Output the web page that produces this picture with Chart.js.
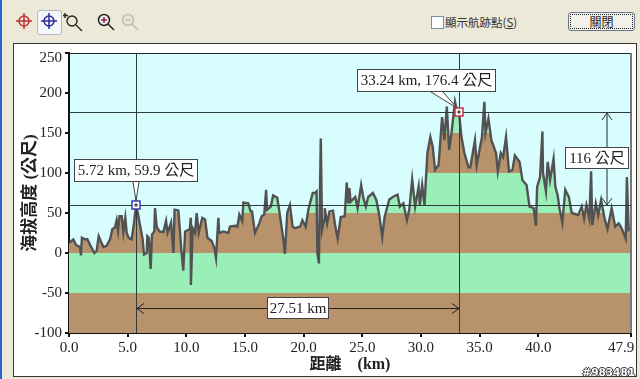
<!DOCTYPE html>
<html>
<head>
<meta charset="utf-8">
<script src="https://cdn.jsdelivr.net/npm/chart.js@4/dist/chart.umd.min.js"></script>
<style>
  html, body { margin: 0; padding: 0; background: #ece9d8; overflow: hidden; }
  #stage { position: relative; width: 640px; height: 379px; overflow: hidden;
    font-family: "Noto Sans CJK TC", sans-serif; color: #222; }
  #edge { position: absolute; left: 0; top: 0; width: 2px; height: 379px; background: #2a62d6; }
  #panel { position: absolute; left: 13px; top: 43px; width: 622px; height: 332px;
    background: #fff; border: 1px solid #333; }
  #chart { position: absolute; left: 0; top: 0; }
  #active { position: absolute; left: 37px; top: 10px; width: 23px; height: 23px;
    background: #f4f6fa; border: 1px solid #b4b8c4; border-radius: 3px; }
  .icon { position: absolute; top: 11px; width: 22px; height: 22px; }
  #check { position: absolute; left: 431px; top: 16px; width: 11px; height: 11px;
    background: #fff; border: 1px solid #7a8ea8; }
  #checkLabel { position: absolute; left: 445px; top: 13px; font-size: 11.5px; line-height: 18px; color: #333; }
  #close { position: absolute; left: 568px; top: 12px; width: 65px; height: 17px;
    border: 1px solid #69788c; border-radius: 3px; background: #f3f2ea; outline: 1px dotted #222;
    outline-offset: -3px; font-size: 12px; line-height: 17px; text-align: center; color: #222; }
  #stamp { position: absolute; right: 5px; bottom: 1px; font: bold 10.5px "DejaVu Sans", sans-serif; color: #fff;
    text-shadow: 1px 0 0 #333, -1px 0 0 #333, 0 1px 0 #333, 0 -1px 0 #333; }
</style>
</head>
<body>
<div id="stage">
  <div id="edge"></div>
  <div id="active"></div>
  <svg class="icon" style="left:13px" viewBox="0 0 22 22" fill="none" stroke="#c03030" stroke-width="1.5">
    <circle cx="11" cy="10" r="5"/><path d="M11 2v16M3 10h16"/></svg>
  <svg class="icon" style="left:38px" viewBox="0 0 22 22" fill="none" stroke="#2a2a9a" stroke-width="1.5">
    <circle cx="11" cy="10" r="5"/><path d="M11 2v16M3 10h16"/></svg>
  <svg class="icon" style="left:62px" viewBox="0 0 22 22" fill="none" stroke="#222" stroke-width="1.4">
    <circle cx="10" cy="10" r="5"/><path d="M14 14l6 6M3 2v5M1 4.500h5" /></svg>
  <svg class="icon" style="left:94px" viewBox="0 0 22 22" fill="none" stroke="#222" stroke-width="1.5">
    <circle cx="10" cy="9" r="5.500" fill="#eee"/><path d="M14 13l6 6"/><path d="M7 9h6M10 6v6" stroke="#902040"/></svg>
  <svg class="icon" style="left:118px" viewBox="0 0 22 22" fill="none" stroke="#bbb" stroke-width="1.5">
    <circle cx="10" cy="9" r="5.500"/><path d="M14 13l6 6M7 9h6"/></svg>
  <div id="check"></div>
  <div id="checkLabel">顯示航跡點(<u>S</u>)</div>
  <div id="close">關閉</div>
  <div id="panel"></div>
  <canvas id="chart" width="640" height="379"></canvas>
  <div id="stamp">#983481</div>
</div>
<script>
"use strict";

// ── Data ────────────────────────────────────────────────────────────────────
const profileKm = [0,0.37,0.6,0.94,1.02,1.1,1.36,1.56,1.8,2.16,2.36,2.53,2.7,2.93,3.2,3.5,3.7,3.92,4.06,4.18,4.3,4.5,4.63,4.8,4.92,5.08,5.34,5.54,5.72,5.89,6.05,6.28,6.39,6.62,6.68,6.8,6.96,7.07,7.27,7.33,7.47,7.7,8.04,8.27,8.4,8.7,8.9,9.0,9.32,9.6,9.74,9.9,10.3,10.37,10.39,10.54,10.74,10.88,11.05,11.36,11.6,11.8,12.16,12.4,12.53,12.73,12.8,13.15,13.58,13.72,14.18,14.35,14.52,14.77,14.86,15.28,15.48,15.6,15.85,16.22,16.42,16.64,16.8,16.88,17.2,17.4,17.75,17.97,18.27,18.4,18.6,18.83,19.06,19.26,19.7,19.89,20.17,20.4,20.77,20.97,21.1,21.17,21.3,21.46,21.57,21.74,21.8,22.0,22.2,22.5,22.7,22.9,23.16,23.5,23.67,23.8,23.9,24.0,24.4,24.6,24.9,25.1,25.3,25.5,25.9,26.2,26.45,26.7,26.9,27.3,27.7,28.0,28.2,28.5,28.8,29.0,29.25,29.5,29.8,29.9,30.1,30.3,30.45,30.55,30.8,31.0,31.2,31.5,31.8,32.0,32.2,32.4,32.6,32.9,33.05,33.24,33.45,33.7,34.05,34.2,34.6,34.75,35.2,35.4,35.5,35.75,36.0,36.4,36.55,36.8,37.0,37.25,37.5,37.8,38.0,38.4,38.65,39.0,39.25,39.6,39.8,39.9,40.15,40.35,40.4,40.65,40.8,41.0,41.3,41.45,41.65,41.8,42.05,42.3,42.6,42.85,43.4,43.7,43.9,44.1,44.35,44.5,44.6,44.9,45.1,45.35,45.65,45.9,46.25,46.55,46.85,47.1,47.45,47.55,47.7,47.9];
const profileM = [12.5,17,10,7.5,-3,19,17,17.5,10,0,3,21,15,7.5,9,17,30,32,41,28,46,46,26,44,25,19,17,37.5,59.9,48,35,17,-2,0,21,19,-20,23,27,56,33,27,26,40,25,38,0,54,53,0,-22,27,30,44,-40,31,25,50,25,44,42,19,15,6,-6,44,25,27,25,33,34,33,48,40,63,62,52,52,25,37,46,48,79,54,58,72,69,48,17,-1,50,60,33,31,33,41,33,54,75,75,77,0,-13,143,29,41,56,37,52,53,33,18,45,46,88,62,81,64,70,56,85,68,58,70,75,66,47,20,45,67,71,73,58,62,41,54,92,58,83,60,85,60,100,125,145,133,104,110,170,141,183,129,150,189,179,176.4,145,125,107,107,141,110,145,189,150,168,141,125,102,125,120,145,102,104,122,114,91,85,58,56,34,83,95,152,100,77,114,91,118,83,72,56,38,79,70,50,47.5,58,43,60,43,102,35,62,47,66,43,30,56,33,37,31,18,95,29,31];
const baseKm = [0, 47.9];
const baseM = [0, 0];

const xTicks = [0, 5, 10, 15, 20, 25, 30, 35, 40, 47.9];
const yTicks = [-100, -50, 0, 50, 100, 150, 200, 250];
// alternating colour per 50 m band, from the bottom of the axis
const bandColors = ["#b8926a", "#9aeeb8", "#b8926a", "#9aeeb8", "#b8926a", "#9aeeb8", "#b8926a"];

const cursorKm = [5.72, 33.24];
const cursorM = [59.9, 176.4];
const cursorLabels = ["5.72 km, 59.9 公尺", "33.24 km, 176.4 公尺"];
const spanLabelX = "27.51 km";
const spanLabelY = "116 公尺";

const SERIF = '"Liberation Serif", "Noto Sans CJK TC", serif';

// ── Helpers ─────────────────────────────────────────────────────────────────
function toPoints(xs, ys) {
  return xs.map((x, i) => ({ x, y: ys[i] }));
}

function bandFill(ctx) {
  const chart = ctx.chart;
  const y = chart.scales.y;
  if (!y || !chart.chartArea) return bandColors[0];
  const g = chart.ctx.createLinearGradient(0, y.getPixelForValue(yTicks[0]), 0, y.getPixelForValue(yTicks[yTicks.length - 1]));
  const n = bandColors.length;
  bandColors.forEach((c, i) => {
    g.addColorStop(i / n, c);
    g.addColorStop((i + 1) / n, c);
  });
  return g;
}

function openHead(c, x, y, dx, dy) {
  // dx,dy = direction the arrow points
  const px = -dy, py = dx;
  c.beginPath();
  c.moveTo(x - dx * 7 + px * 5, y - dy * 7 + py * 5);
  c.lineTo(x, y);
  c.lineTo(x - dx * 7 - px * 5, y - dy * 7 - py * 5);
  c.stroke();
}

function labelBox(c, x0, y0, x1, y1, text) {
  c.fillStyle = "#fff";
  c.fillRect(x0, y0, x1 - x0, y1 - y0);
  c.strokeStyle = "#444";
  c.lineWidth = 1;
  c.strokeRect(x0 + 0.5, y0 + 0.5, x1 - x0 - 1, y1 - y0 - 1);
  c.fillStyle = "#222";
  c.font = "15px " + SERIF;
  c.textAlign = "center";
  c.textBaseline = "middle";
  c.fillText(text, (x0 + x1) / 2, (y0 + y1) / 2 + 1);
}

function wedge(c, x0, x1, yTop, tipX, tipY) {
  c.fillStyle = "#fff";
  c.strokeStyle = "#444";
  c.lineWidth = 1;
  c.beginPath();
  c.moveTo(x0, yTop);
  c.lineTo(tipX, tipY);
  c.lineTo(x1, yTop);
  c.fill();
  c.stroke();
}

function marker(c, x, y, color) {
  c.fillStyle = "#fff";
  c.fillRect(x - 4, y - 4, 8, 8);
  c.strokeStyle = color;
  c.lineWidth = 1.500;
  c.strokeRect(x - 4, y - 4, 8, 8);
  c.strokeStyle = "#222";
  c.lineWidth = 1;
  c.beginPath();
  c.moveTo(x - 2, y); c.lineTo(x + 2, y);
  c.moveTo(x, y - 2); c.lineTo(x, y + 2);
  c.stroke();
}

// ── Frame, cursors and measure labels ───────────────────────────────────────
const overlayPlugin = {
  id: "overlay",
  afterDatasetsDraw(chart) {
    const c = chart.ctx;
    const a = chart.chartArea;
    const sx = chart.scales.x;
    const sy = chart.scales.y;
    const x1 = Math.round(sx.getPixelForValue(cursorKm[0]));
    const x2 = Math.round(sx.getPixelForValue(cursorKm[1]));
    const y1 = Math.round(sy.getPixelForValue(cursorM[0]));
    const y2 = Math.round(sy.getPixelForValue(cursorM[1]));

    c.save();
    // plot frame
    c.strokeStyle = "#222";
    c.lineWidth = 1;
    c.beginPath();
    c.moveTo(a.left, a.top + 0.5); c.lineTo(a.right, a.top + 0.5);
    c.stroke();
    c.strokeStyle = "#777";
    c.lineWidth = 2;
    c.beginPath();
    c.moveTo(a.right, a.top); c.lineTo(a.right, a.bottom);
    c.stroke();

    // cursor lines
    c.strokeStyle = "#2c3c3c";
    c.lineWidth = 1;
    c.beginPath();
    c.moveTo(x1 + 0.5, a.top); c.lineTo(x1 + 0.5, a.bottom);
    c.moveTo(x2 + 0.5, a.top); c.lineTo(x2 + 0.5, a.bottom);
    c.moveTo(a.left, y1 + 0.5); c.lineTo(a.right, y1 + 0.5);
    c.moveTo(a.left, y2 + 0.5); c.lineTo(a.right, y2 + 0.5);
    c.stroke();

    // horizontal distance arrow
    const spanY = 308.5;
    c.strokeStyle = "#222";
    c.beginPath();
    c.moveTo(x1, spanY); c.lineTo(x2, spanY);
    c.stroke();
    openHead(c, x1 + 1, spanY, -1, 0);
    openHead(c, x2, spanY, 1, 0);
    labelBox(c, 267, 297, 329, 319, spanLabelX);

    // vertical height arrow
    const spanX = 607;
    c.strokeStyle = "#5a7078";
    c.lineWidth = 1.500;
    c.beginPath();
    c.moveTo(spanX, y2 + 1); c.lineTo(spanX, y1);
    c.stroke();
    c.lineWidth = 1;
    c.strokeStyle = "#333";
    openHead(c, spanX, y2 + 1, 0, -1);
    openHead(c, spanX, y1, 0, 1);
    labelBox(c, 565, 147, 629, 169, spanLabelY);

    // cursor callouts
    wedge(c, 133, 139, 182, x1, y1 - 4);
    wedge(c, 431, 443, 92, x2 - 2, y2 - 4);
    labelBox(c, 74, 159, 198, 182, cursorLabels[0]);
    labelBox(c, 357, 69, 496, 92, cursorLabels[1]);
    marker(c, x1, y1, "#3a3ab0");
    marker(c, x2, y2, "#c03048");
    c.restore();
  },
};

// plot background, and the two end labels that the original nudges inward
const plotBackground = {
  id: "plotBackground",
  beforeDraw(chart) {
    const a = chart.chartArea;
    chart.ctx.fillStyle = "#d8fdfe";
    chart.ctx.fillRect(a.left, a.top, a.right - a.left, a.bottom - a.top);

    const xItems = chart.scales.x.getLabelItems(a);
    xItems[xItems.length - 1].options.translation[0] -= 10;
    const yItems = chart.scales.y.getLabelItems(a);
    yItems[yItems.length - 1].options.translation[1] += 5;
  },
};

// ── Chart ───────────────────────────────────────────────────────────────────
new Chart(document.getElementById("chart"), {
  type: "line",
  data: {
    datasets: [
      {
        label: "profile",
        data: toPoints(profileKm, profileM),
        borderColor: "#525252",
        borderWidth: 2.4,
        backgroundColor: bandFill,
        fill: "start",
        tension: 0,
        pointRadius: 0,
      },
      {
        label: "base",
        data: toPoints(baseKm, baseM),
        borderWidth: 0,
        borderColor: "transparent",
        backgroundColor: bandFill,
        fill: "start",
        pointRadius: 0,
      },
    ],
  },
  options: {
    responsive: false,
    animation: false,
    events: [],
    layout: { padding: { left: 0, top: 53, right: 9, bottom: 0 } },
    plugins: { legend: { display: false }, tooltip: { enabled: false } },
    scales: {
      x: {
        type: "linear",
        min: 0,
        max: 47.9,
        afterFit: s => { s.height = 46; s.paddingLeft = 0; s.paddingRight = 0; },
        afterBuildTicks: s => { s.ticks = xTicks.map(value => ({ value })); },
        border: { display: true, color: "#111", width: 2 },
        grid: { drawOnChartArea: false, color: "#111", tickColor: "#111", tickLength: 4, lineWidth: 2 },
        ticks: {
          autoSkip: false,
          maxRotation: 0,
          color: "#222",
          padding: 2,
          font: { family: SERIF, size: 15 },
          callback: v => Number(v).toFixed(1),
        },
        title: {
          display: true,
          text: "距離　(km)",
          color: "#222",
          padding: { top: 5, bottom: 5 },
          font: { family: SERIF, size: 16, weight: "bold" },
        },
      },
      y: {
        min: -100,
        max: 250,
        afterFit: s => { s.width = 69; s.paddingTop = 0; s.paddingBottom = 0; },
        afterBuildTicks: s => { s.ticks = yTicks.map(value => ({ value })); },
        border: { display: true, color: "#111", width: 2 },
        grid: { drawOnChartArea: false, color: "#111", tickColor: "#111", tickLength: 4, lineWidth: 2 },
        ticks: {
          autoSkip: false,
          color: "#222",
          padding: 3,
          font: { family: SERIF, size: 15 },
        },
        title: {
          display: true,
          text: "海拔高度 (公尺)",
          color: "#222",
          padding: { top: 20, bottom: 0 },
          font: { family: SERIF, size: 17, weight: "bold" },
        },
      },
    },
  },
  plugins: [plotBackground, overlayPlugin],
});
</script>
</body>
</html>
